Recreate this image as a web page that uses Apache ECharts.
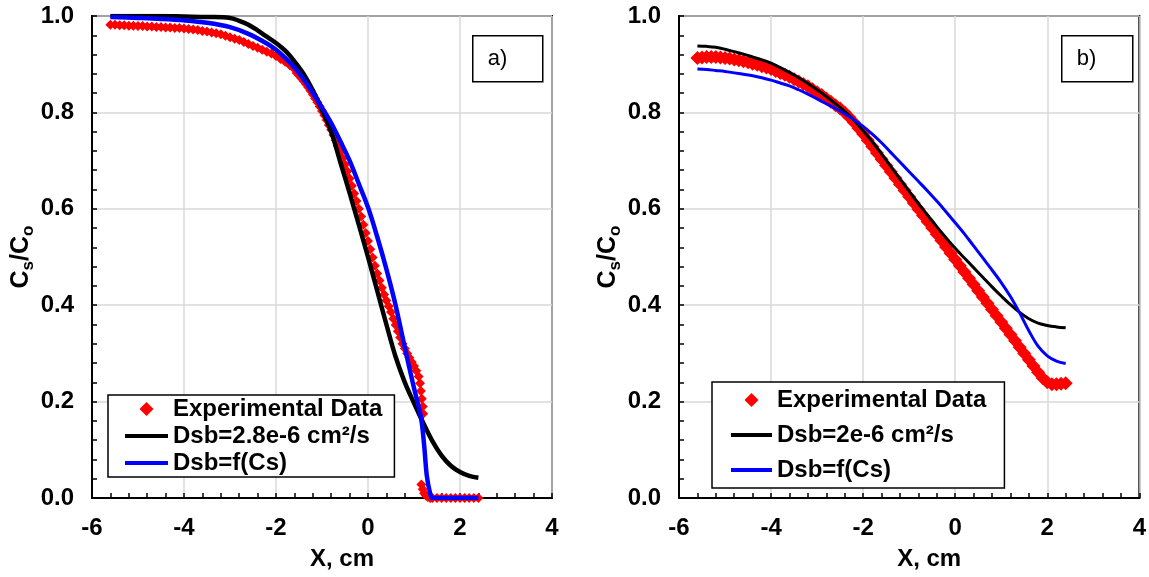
<!DOCTYPE html>
<html>
<head>
<meta charset="utf-8">
<script src="https://cdn.jsdelivr.net/npm/echarts@6/dist/echarts.min.js"></script>
<style>
html,body{margin:0;padding:0;background:#fff;}
#chart{width:1149px;height:577px;}
</style>
</head>
<body>
<div id="chart"></div>
<script>
// ---------- Panel a) ----------
const aExp = [
[-5.6,0.982],[-5.5,0.982],[-5.4,0.981],[-5.3,0.981],[-5.2,0.980],[-5.1,0.980],[-5.0,0.979],[-4.9,0.979],
[-4.8,0.978],[-4.7,0.978],[-4.6,0.977],[-4.5,0.977],[-4.4,0.976],[-4.3,0.976],[-4.2,0.975],[-4.1,0.975],
[-4.0,0.974],[-3.9,0.973],[-3.8,0.972],[-3.7,0.971],[-3.6,0.969],[-3.5,0.968],[-3.4,0.966],[-3.3,0.964],
[-3.2,0.962],[-3.1,0.959],[-3.0,0.956],[-2.9,0.953],[-2.8,0.950],[-2.7,0.946],[-2.6,0.942],[-2.5,0.938],
[-2.4,0.934],[-2.3,0.930],[-2.2,0.926],[-2.1,0.922],[-2.0,0.917],[-1.9,0.911],[-1.8,0.905],[-1.7,0.898],
[-1.6,0.890],[-1.55,0.882],[-1.5,0.877],[-1.45,0.871],[-1.4,0.865],[-1.35,0.859],[-1.3,0.852],[-1.25,0.845],
[-1.2,0.837],[-1.15,0.829],[-1.1,0.821],[-1.05,0.812],[-1.0,0.803],[-0.95,0.794],[-0.9,0.784],[-0.85,0.774],
[-0.8,0.764],[-0.75,0.753],[-0.7,0.742],[-0.65,0.730],[-0.6,0.718],[-0.55,0.705],[-0.5,0.692],[-0.45,0.678],
[-0.4,0.663],[-0.35,0.648],[-0.3,0.632],[-0.25,0.616],[-0.2,0.600],[-0.15,0.584],[-0.1,0.567],[-0.05,0.550],
[0.0,0.533],[0.05,0.516],[0.1,0.499],[0.15,0.482],[0.2,0.466],[0.25,0.451],[0.3,0.436],[0.35,0.422],
[0.4,0.410],[0.45,0.398],[0.5,0.386],[0.55,0.372],[0.6,0.359],[0.65,0.346],[0.7,0.333],[0.75,0.320],
[0.8,0.310],[0.85,0.300],[0.9,0.291],[0.95,0.282],[1.0,0.274],[1.05,0.264],[1.1,0.252],[1.13,0.238],
[1.15,0.222],[1.17,0.206],[1.19,0.190],[1.2,0.175],
[1.16,0.028],[1.19,0.018],[1.22,0.010],[1.26,0.005],[1.3,0.002],[1.35,0.0],[1.4,0.0],[1.5,0.0],
[1.6,0.0],[1.7,0.0],[1.8,0.0],[1.9,0.0],[2.0,0.0],[2.1,0.0],[2.2,0.0],[2.3,0.0],[2.4,0.0]
];
const aConst = [
[-5.6,1.0],[-5.0,1.0],[-4.5,1.0],[-4.0,0.999],[-3.5,0.998],[-3.0,0.996],[-2.8,0.990],[-2.6,0.982],
[-2.4,0.970],[-2.2,0.957],[-2.0,0.944],[-1.8,0.928],[-1.6,0.906],[-1.4,0.880],[-1.2,0.846],[-1.0,0.805],
[-0.8,0.760],[-0.6,0.696],[-0.4,0.633],[-0.2,0.567],[0.0,0.500],[0.2,0.430],[0.4,0.360],[0.6,0.293],
[0.8,0.240],[1.0,0.197],[1.2,0.156],[1.4,0.118],[1.6,0.088],[1.8,0.067],[2.0,0.054],[2.2,0.046],[2.4,0.042]
];
const aVar = [
[-5.6,0.998],[-5.0,0.996],[-4.5,0.994],[-4.0,0.991],[-3.5,0.986],[-3.0,0.977],[-2.6,0.963],[-2.2,0.943],
[-2.0,0.930],[-1.8,0.913],[-1.6,0.893],[-1.4,0.869],[-1.2,0.840],[-1.0,0.810],[-0.8,0.778],[-0.6,0.740],
[-0.4,0.700],[-0.2,0.652],[0.0,0.603],[0.2,0.542],[0.4,0.475],[0.6,0.400],[0.8,0.312],[1.0,0.228],
[1.15,0.168],[1.22,0.110],[1.28,0.045],[1.35,0.010],[1.4,0.0],[1.5,0.0],[1.7,0.0],[2.0,0.0],[2.4,0.0]
];

// ---------- Panel b) ----------
const bExp = [
[-5.6,0.913],[-5.5,0.914],[-5.4,0.915],[-5.3,0.915],[-5.2,0.915],[-5.1,0.914],[-5.0,0.913],[-4.9,0.912],
[-4.8,0.910],[-4.7,0.908],[-4.6,0.906],[-4.5,0.904],[-4.4,0.901],[-4.3,0.899],[-4.2,0.896],[-4.1,0.893],
[-4.0,0.890],[-3.9,0.886],[-3.8,0.882],[-3.7,0.878],[-3.6,0.874],[-3.5,0.869],[-3.4,0.864],[-3.3,0.859],
[-3.2,0.854],[-3.1,0.848],[-3.0,0.842],[-2.9,0.836],[-2.8,0.829],[-2.7,0.822],[-2.6,0.815],[-2.5,0.808],
[-2.4,0.800],[-2.3,0.790],[-2.2,0.779],[-2.1,0.767],[-2.0,0.755],[-1.9,0.742],[-1.8,0.729],[-1.7,0.716],
[-1.6,0.703],[-1.5,0.690],[-1.4,0.677],[-1.3,0.664],[-1.2,0.651],[-1.1,0.638],[-1.0,0.625],[-0.9,0.612],
[-0.8,0.599],[-0.7,0.586],[-0.6,0.573],[-0.5,0.560],[-0.4,0.547],[-0.3,0.534],[-0.2,0.521],[-0.1,0.508],
[0.0,0.495],[0.1,0.482],[0.2,0.469],[0.3,0.456],[0.4,0.443],[0.5,0.430],[0.6,0.417],[0.7,0.404],
[0.8,0.391],[0.9,0.378],[1.0,0.365],[1.1,0.352],[1.2,0.339],[1.3,0.326],[1.4,0.313],[1.5,0.300],
[1.6,0.287],[1.7,0.274],[1.8,0.261],[1.9,0.249],[2.0,0.240],[2.1,0.236],[2.2,0.236],[2.3,0.237],[2.4,0.238]
];
const bConst = [
[-5.6,0.938],[-5.4,0.937],[-5.2,0.935],[-5.0,0.931],[-4.8,0.926],[-4.6,0.921],[-4.4,0.915],[-4.2,0.909],
[-4.0,0.902],[-3.8,0.893],[-3.6,0.883],[-3.4,0.872],[-3.2,0.860],[-3.0,0.847],[-2.8,0.833],[-2.6,0.818],
[-2.4,0.802],[-2.2,0.784],[-2.0,0.762],[-1.8,0.739],[-1.6,0.714],[-1.4,0.688],[-1.2,0.662],[-1.0,0.636],
[-0.8,0.611],[-0.6,0.587],[-0.4,0.563],[-0.2,0.540],[0.0,0.518],[0.2,0.498],[0.4,0.478],[0.6,0.458],
[0.8,0.438],[1.0,0.419],[1.2,0.401],[1.4,0.385],[1.6,0.372],[1.8,0.363],[2.0,0.358],[2.2,0.355],[2.4,0.353]
];
const bVar = [
[-5.6,0.890],[-5.4,0.889],[-5.2,0.887],[-5.0,0.885],[-4.8,0.882],[-4.6,0.879],[-4.4,0.876],[-4.2,0.872],
[-4.0,0.867],[-3.8,0.861],[-3.6,0.855],[-3.4,0.847],[-3.2,0.838],[-3.0,0.828],[-2.8,0.818],[-2.6,0.808],
[-2.4,0.797],[-2.2,0.785],[-2.0,0.771],[-1.8,0.755],[-1.6,0.737],[-1.4,0.717],[-1.2,0.697],[-1.0,0.677],
[-0.8,0.657],[-0.6,0.637],[-0.4,0.616],[-0.2,0.594],[0.0,0.571],[0.2,0.548],[0.4,0.523],[0.6,0.498],
[0.8,0.473],[1.0,0.447],[1.2,0.418],[1.4,0.384],[1.6,0.347],[1.8,0.315],[2.0,0.295],[2.2,0.284],[2.4,0.279]
];

const panelTags = ['a)', 'b)'];
const expName = 'Experimental Data';
const constNames = ['Dsb=2.8e-6 cm\u00b2/s', 'Dsb=2e-6 cm\u00b2/s'];
const varName = 'Dsb=f(Cs)';
const xTitle = 'X, cm';

const FONT = "'Liberation Sans', Arial, sans-serif";
const chart = echarts.init(document.getElementById('chart'), null, {renderer: 'canvas'});

const grids = [
  {left: 92, top: 16, width: 460, height: 482},
  {left: 679, top: 16, width: 461, height: 482}
];

function xAx(i) {
  return {
    type: 'value', gridIndex: i, min: -6, max: 4, interval: 2,
    name: xTitle, nameLocation: 'middle', nameGap: 49,
    nameTextStyle: {fontFamily: FONT, fontWeight: 'bold', fontSize: 24, color: '#000', padding: [0, 0, 0, 40]},
    axisLine: {show: true, onZero: false, lineStyle: {color: '#000', width: 2}},
    axisTick: {show: true, inside: true, length: 5, lineStyle: {color: '#000', width: 1.5}},
    minorTick: {show: true, splitNumber: 5, length: 5, lineStyle: {color: '#000', width: 1.5}},
    axisLabel: {fontFamily: FONT, fontWeight: 'bold', fontSize: 24, color: '#000', margin: 18},
    splitLine: {show: true, lineStyle: {color: '#d9d9d9', width: 1.5}}
  };
}
function yAx(i) {
  return {
    type: 'value', gridIndex: i, min: 0, max: 1, interval: 0.2,
    name: '{m|C}{s|s}{m|/C}{s|o}', nameLocation: 'middle', nameGap: 42,
    nameTextStyle: {
      rich: {
        m: {fontFamily: FONT, fontWeight: 'bold', fontSize: 25, color: '#000', lineHeight: 32, verticalAlign: 'middle'},
        s: {fontFamily: FONT, fontWeight: 'bold', fontSize: 17, color: '#000', verticalAlign: 'bottom'}
      }
    },
    axisLine: {show: true, onZero: false, lineStyle: {color: '#000', width: 2}},
    axisTick: {show: true, inside: true, length: 5, lineStyle: {color: '#000', width: 1.5}},
    minorTick: {show: true, splitNumber: 5, length: 5, lineStyle: {color: '#000', width: 1.5}},
    axisLabel: {fontFamily: FONT, fontWeight: 'bold', fontSize: 24, color: '#000', margin: 18,
      formatter: v => v.toFixed(1)},
    splitLine: {show: true, lineStyle: {color: '#d9d9d9', width: 1.5}}
  };
}

function seriesFor(i, exp, cst, vr, symSize, lw) {
  return [
    {type: 'scatter', name: expName, xAxisIndex: i, yAxisIndex: i, data: exp,
     symbol: 'diamond', symbolSize: symSize, itemStyle: {color: '#ff0000', opacity: 1}, silent: true, z: 2},
    {type: 'line', name: constNames[i], xAxisIndex: i, yAxisIndex: i, data: cst,
     symbol: 'none', showSymbol: false, smooth: 0.35,
     lineStyle: {color: '#000', width: lw}, itemStyle: {color: '#000'}, silent: true, z: 3},
    {type: 'line', name: varName, xAxisIndex: i, yAxisIndex: i, data: vr,
     symbol: 'none', showSymbol: false, smooth: 0.35,
     lineStyle: {color: '#0000ff', width: lw}, itemStyle: {color: '#0000ff'}, silent: true, z: 4}
  ];
}

const legendText = {fontFamily: FONT, fontWeight: 'bold', fontSize: 24, color: '#000', lineHeight: 24};
const diamondIcon = 'path://M7,0 L14,7 L7,14 L0,7 Z';
function lineIcon(w) { return 'path://M0,0 L' + w + ',0 L' + w + ',4 L0,4 Z'; }

function legendData(i, w) {
  return [
    {name: expName, icon: diamondIcon, itemStyle: {color: '#ff0000'}},
    {name: constNames[i], icon: lineIcon(w), itemStyle: {color: '#000'}},
    {name: varName, icon: lineIcon(w), itemStyle: {color: '#0000ff'}}
  ];
}

function tagBox(x, y, w, h, txt) {
  return {
    type: 'group', left: x, top: y,
    children: [
      {type: 'rect', shape: {x: 0, y: 0, width: w, height: h},
       style: {fill: '#fff', stroke: '#000', lineWidth: 1.5}},
      {type: 'text', x: 15, y: h / 2,
       style: {text: txt, font: "22px 'Liberation Sans', Arial, sans-serif", fill: '#000', verticalAlign: 'middle'}}
    ]
  };
}

chart.setOption({
  animation: false,
  backgroundColor: '#fff',
  grid: grids.map(g => Object.assign({show: true, borderColor: '#000', borderWidth: 2, backgroundColor: 'transparent'}, g)),
  xAxis: [xAx(0), xAx(1)],
  yAxis: [yAx(0), yAx(1)],
  legend: [
    {left: 108, top: 395, orient: 'vertical', selectedMode: false, symbolKeepAspect: true,
     padding: [2, 12, 2, 17], itemWidth: 43, itemHeight: 14, itemGap: 3,
     borderColor: '#000', borderWidth: 1.5, backgroundColor: '#fff',
     textStyle: legendText, data: legendData(0, 43)},
    {left: 712, top: 382, orient: 'vertical', selectedMode: false, symbolKeepAspect: true,
     padding: [6, 18, 6, 19], itemWidth: 41, itemHeight: 14, itemGap: 11,
     borderColor: '#000', borderWidth: 1.5, backgroundColor: '#fff',
     textStyle: legendText, data: legendData(1, 41)}
  ],
  graphic: [tagBox(472, 35, 70, 46, panelTags[0]), tagBox(1061, 35, 71, 46, panelTags[1])],
  series: [].concat(seriesFor(0, aExp, aConst, aVar, 10, 4.5), seriesFor(1, bExp, bConst, bVar, 14, 3))
});
</script>
</body>
</html>
